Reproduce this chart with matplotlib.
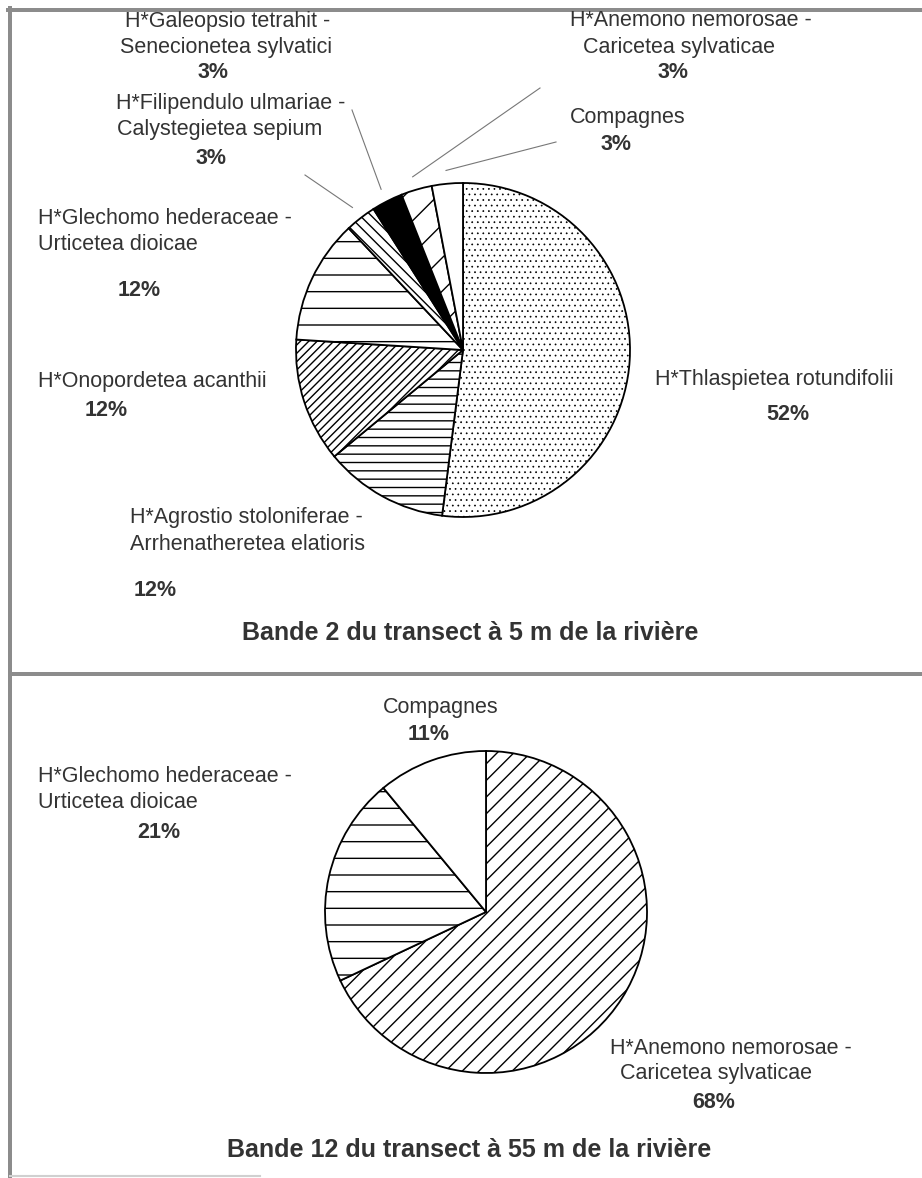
import numpy as np
import matplotlib
matplotlib.use("Agg")
import matplotlib.pyplot as plt
from matplotlib.lines import Line2D

# ---------------- data ----------------
top_title = "Bande 2 du transect à 5 m de la rivière"
top_names = [
    "H*Thlaspietea rotundifolii",
    "H*Agrostio stoloniferae -\nArrhenatheretea elatioris",
    "H*Onopordetea acanthii",
    "H*Glechomo hederaceae -\nUrticetea dioicae",
    "H*Filipendulo ulmariae -\nCalystegietea sepium",
    "H*Galeopsio tetrahit -\nSenecionetea sylvatici",
    "H*Anemono nemorosae -\nCaricetea sylvaticae",
    "Compagnes",
]
top_values = [52, 12, 12, 12, 3, 3, 3, 3]

bottom_title = "Bande 12 du transect à 55 m de la rivière"
bottom_names = [
    "H*Anemono nemorosae -\nCaricetea sylvaticae",
    "H*Glechomo hederaceae -\nUrticetea dioicae",
    "Compagnes",
]
bottom_values = [68, 21, 11]

# ---------------- styling / layout ----------------
W, H = 922, 1178
plt.rcParams['font.family'] = ['Liberation Sans', 'DejaVu Sans']
plt.rcParams['hatch.linewidth'] = 1.0
TXT = '#333333'
FRAME = '#8c8c8c'
FS = 15.5
TFS = 18

top_hatches = ['...', '--', '////', '-', '\\\\\\', '', '/', '']
top_faces = ['white', 'white', 'white', 'white', 'white', 'black', 'white', 'white']
bottom_hatches = ['//', '-', '']
bottom_faces = ['white', 'white', 'white']

fig = plt.figure(figsize=(W / 100, H / 100), dpi=100)
ax = fig.add_axes([0, 0, 1, 1])


def Y(y):
    return H - y


def draw_pie(values, hatches, faces, cx, cy, r):
    wedges, _ = ax.pie(values, center=(cx, Y(cy)), radius=r, startangle=90,
                       counterclock=False, colors=faces, hatch=hatches,
                       wedgeprops=dict(edgecolor='black', linewidth=1.3),
                       frame=True)
    return wedges


# top pie
tcx, tcy, tr = 463, 350, 167
tw = draw_pie(top_values, top_hatches, top_faces, tcx, tcy, tr)
# lighter stipple for the dotted slice
if hasattr(tw[0], 'set_hatch_linewidth'):
    tw[0].set_hatch_linewidth(0.5)
# bottom pie
bcx, bcy, br = 486, 912, 161
bw = draw_pie(bottom_values, bottom_hatches, bottom_faces, bcx, bcy, br)


def label(name, value, lefts, ys, pct_x):
    lines = name.split('\n')
    for t, x, y in zip(lines, lefts, ys):
        ax.text(x, Y(y), t, ha='left', va='center', fontsize=FS, color=TXT)
    ax.text(pct_x, Y(ys[-1]), f"{value}%", ha='center', va='center',
            fontsize=FS, color=TXT, fontweight='bold')


# top labels: index -> (left x of name lines, y centres incl. percent, percent x)
top_pos = {
    0: ([655], [379, 415], 788),
    1: ([130, 130], [518, 545, 590], 155),
    2: ([38], [382, 410], 106),
    3: ([38, 38], [218, 245, 290], 139),
    4: ([116, 117], [104, 130, 158], 211),
    5: ([125, 120], [22, 47, 72], 213),
    6: ([570, 583], [21, 47, 72], 673),
    7: ([570], [117, 145], 616),
}
for i, (xs, ys, px) in top_pos.items():
    label(top_names[i], top_values[i], xs, ys, px)

bottom_pos = {
    0: ([610, 620], [1048, 1074, 1103], 714),
    1: ([38, 38], [776, 802, 832], 159),
    2: ([383], [708, 735], 429),
}
for i, (xs, ys, px) in bottom_pos.items():
    label(bottom_names[i], bottom_values[i], xs, ys, px)

# leader lines for the small top slices (from wedge mid angle to text)
leader_ends = {4: (305, 175), 5: (352, 110), 6: (540, 88), 7: (556, 142)}
for i, (ex, ey) in leader_ends.items():
    w = tw[i]
    mid = np.deg2rad((w.theta1 + w.theta2) / 2)
    sx = tcx + 1.08 * tr * np.cos(mid)
    sy = Y(tcy) + 1.08 * tr * np.sin(mid)
    ax.add_line(Line2D([sx, ex], [sy, Y(ey)], color='#777777', lw=0.8))

# titles
ax.text(470, Y(633), top_title, ha='center', va='center', fontsize=TFS,
        fontweight='bold', color=TXT)
ax.text(469, Y(1150), bottom_title, ha='center', va='center', fontsize=TFS,
        fontweight='bold', color=TXT)

# frames
flw = 4 * 0.72
ax.add_line(Line2D([10, 10], [Y(8), Y(1178)], color=FRAME, lw=flw))
ax.add_line(Line2D([8, W], [Y(10), Y(10)], color=FRAME, lw=flw))
ax.add_line(Line2D([10, W], [Y(674), Y(674)], color=FRAME, lw=flw))
ax.add_line(Line2D([10, 260], [Y(1176), Y(1176)], color='#d0d0d0', lw=1.5))

ax.set_xlim(0, W)
ax.set_ylim(0, H)
ax.set_aspect('auto')
ax.axis('off')

fig.savefig('out.png', dpi=100, facecolor='white')
